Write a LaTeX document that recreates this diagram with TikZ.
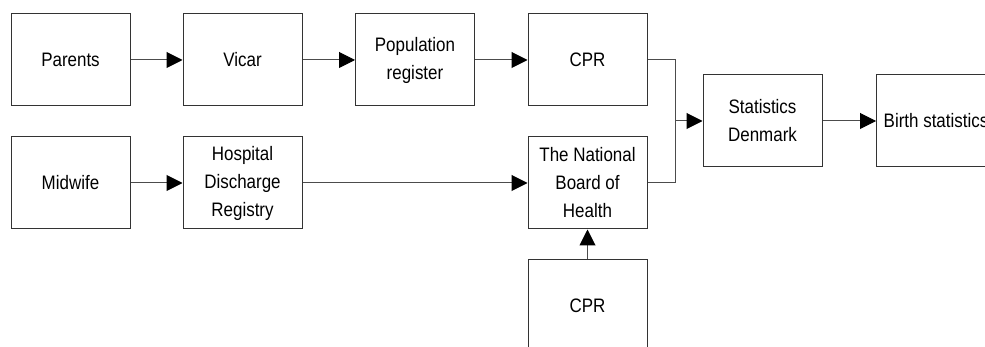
\documentclass[tikz,border=0pt]{standalone}
\usepackage{fontspec}
\setmainfont[FakeStretch=0.87]{Liberation Sans}
\usetikzlibrary{arrows.meta}
\begin{document}
\begin{tikzpicture}[x=1pt,y=-1pt,
  box/.style={draw=black!80,line width=1pt,minimum width=119pt,minimum height=92pt,inner sep=0pt,align=center,font=\fontsize{19.5}{28}\selectfont},
  conn/.style={draw=black!70,line width=1pt,-{Triangle[length=16pt,width=16pt,color=black,fill=black]}},
  plain/.style={draw=black!70,line width=1pt}]
\clip (0,0) rectangle (985,347);
\fill[white] (0,0) rectangle (985,347);
\node[box] (parents) at (70.5,60) {Parents};
\node[box] (vicar) at (242.5,60) {Vicar};
\node[box] (pop) at (415,60) {Population\\register};
\node[box] (cpr) at (587.5,60) {CPR};
\node[box] (sd) at (762.5,121) {Statistics\\Denmark};
\node[box] (birth) at (936,121) {Birth statistics};
\node[box] (midwife) at (70.5,183) {Midwife};
\node[box] (hdr) at (242.5,183) {Hospital\\Discharge\\Registry};
\node[box] (nbh) at (587.5,183) {The National\\Board of\\Health};
\node[box] (cpr2) at (587.5,306) {CPR};
\coordinate (j) at (675,121);
\draw[conn] (parents) -- (vicar);
\draw[conn] (vicar) -- (pop);
\draw[conn] (pop) -- (cpr);
\draw[conn] (midwife) -- (hdr);
\draw[conn] (hdr) -- (nbh);
\draw[conn] (cpr2) -- (nbh);
\draw[plain] (cpr.east) -| (j);
\draw[plain] (nbh.east) -| (j);
\draw[conn] (j) -- (sd.west);
\draw[conn] (sd) -- (birth);
\end{tikzpicture}
\end{document}
